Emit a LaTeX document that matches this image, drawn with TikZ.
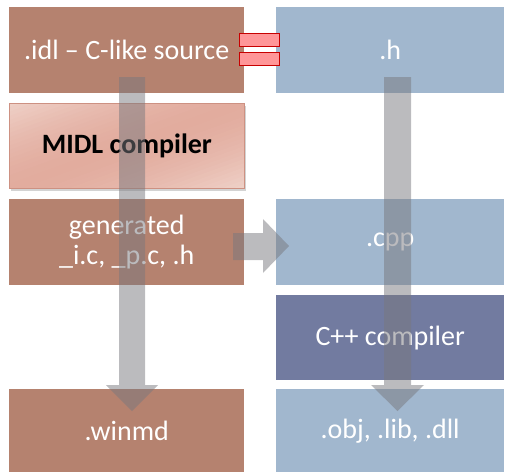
\documentclass[tikz,border=0pt]{standalone}
\usepackage{fontspec}
\setmainfont{Carlito}
\usetikzlibrary{shadows,calc}
\definecolor{brownbox}{RGB}{181,130,111}
\definecolor{bluebox}{RGB}{161,183,206}
\definecolor{darkbox}{RGB}{114,123,160}
\definecolor{midlA}{RGB}{239,209,200}
\definecolor{midlB}{RGB}{226,172,158}
\definecolor{midlEdge}{RGB}{205,145,130}
\definecolor{flowgray}{RGB}{120,120,126}
\definecolor{eqfill}{RGB}{255,150,152}
\definecolor{eqedge}{RGB}{200,0,0}
\tikzset{
  box/.style={anchor=north west, inner sep=0pt, text=white,
    font=\fontsize{28}{33}\selectfont, align=center},
  brown/.style={box, fill=brownbox},
  blue/.style={box, fill=bluebox},
  dark/.style={box, fill=darkbox},
  flow/.style={fill=flowgray, fill opacity=0.5, draw=none},
  eqbar/.style={fill=eqfill, draw=eqedge, line width=1.3pt},
  % diagonal light-dark-light gradient, bands running corner to corner
  diagshade/.style={path picture={
    \foreach \k in {0,...,39}{
      \pgfmathsetmacro\sa{-80+4*\k}
      \pgfmathsetmacro\sb{\sa+4.6}
      \pgfmathsetmacro\pct{100*(abs(\sa+2)/80)^1.6}
      \fill[midlA!\pct!midlB]
        ($(path picture bounding box.center)+({\sa*0.3401-188.08pt},{-\sa*0.9404-68.02pt})$) --
        ($(path picture bounding box.center)+({\sa*0.3401+188.08pt},{-\sa*0.9404+68.02pt})$) --
        ($(path picture bounding box.center)+({\sb*0.3401+188.08pt},{-\sb*0.9404+68.02pt})$) --
        ($(path picture bounding box.center)+({\sb*0.3401-188.08pt},{-\sb*0.9404-68.02pt})$) -- cycle;
    }}}
}
\begin{document}
\begin{tikzpicture}[x=1pt,y=-1pt]
\useasboundingbox (0,0) rectangle (507,472);
% left column
\node[brown, minimum width=235pt, minimum height=86pt] (idl) at (9,7) {.idl -- C-like source};
\node[anchor=north west, minimum width=235pt, minimum height=85pt, inner sep=0pt,
  fill=midlB, diagshade, draw=midlEdge, line width=0.8pt,
  drop shadow={shadow xshift=1.5pt, shadow yshift=-2.5pt, opacity=0.35},
  font=\fontsize{28}{33}\selectfont\bfseries, text=black] (midl) at (9,103) {MIDL compiler};
\node[brown, minimum width=235pt, minimum height=86pt] (gen) at (9,199) {generated\\[-3pt]\_i.c, \_p.c, .h};
\node[brown, minimum width=235pt, minimum height=84pt] (winmd) at (9,389) {.winmd};
% right column
\node[blue, minimum width=228pt, minimum height=86pt] (h) at (276,7) {.h};
\node[blue, minimum width=228pt, minimum height=86pt] (cpp) at (276,199) {.cpp};
\node[dark, minimum width=228pt, minimum height=85pt] (cc) at (276,295) {C++ compiler};
\node[blue, minimum width=228pt, minimum height=84pt] (obj) at (276,389) {.obj, .lib, .dll};
% equivalence mark between .idl and .h
\node[eqbar, minimum width=40pt, minimum height=13pt, inner sep=0pt, anchor=north west] (eqa) at (239,33) {};
\node[eqbar, minimum width=40pt, minimum height=13pt, inner sep=0pt, anchor=north west] (eqb) at (239,52) {};
% flow arrows
\fill[flow] (119,77) -- (145,77) -- (145,385) -- (158,385) -- (132,411) -- (106,385) -- (119,385) -- cycle;
\fill[flow] (384,77) -- (411,77) -- (411,385) -- (424,385) -- (397.5,411) -- (371,385) -- (384,385) -- cycle;
\fill[flow] (233,233) -- (263,233) -- (263,219) -- (289,246) -- (263,273) -- (263,260) -- (233,260) -- cycle;
\end{tikzpicture}
\end{document}
